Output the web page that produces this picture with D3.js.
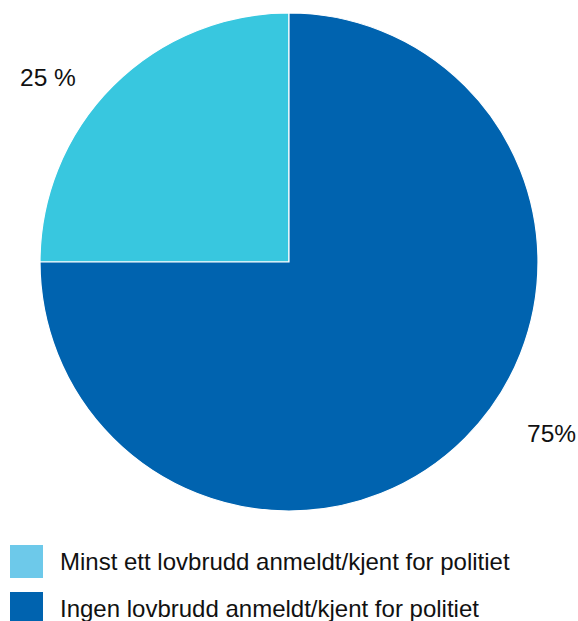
<!DOCTYPE html>
<html><head><meta charset="utf-8">
<script src="https://cdn.jsdelivr.net/npm/d3@7"></script>
<style>body{margin:0;background:#fff}svg{display:block}</style>
</head><body>
<script>
const categories = ["Minst ett lovbrudd anmeldt/kjent for politiet", "Ingen lovbrudd anmeldt/kjent for politiet"];
const values = [25, 75];
const sliceLabels = ["25 %", "75%"];
const sliceColors = ["#38C7DF", "#0063AF"];
const legendColors = ["#6DC9EA", "#0063AF"];

const W = 578, H = 621;
const svg = d3.select("body").append("svg").attr("width", W).attr("height", H);
const cx = 289, cy = 262, r = 249;

// light slice occupies the top-left quadrant, ending at 12 o'clock
const pie = d3.pie().sort(null).startAngle(-Math.PI / 2).endAngle(1.5 * Math.PI);
const arcs = pie(values);
const arc = d3.arc().innerRadius(0).outerRadius(r);
const g = svg.append("g").attr("transform", `translate(${cx},${cy})`);
g.selectAll("path").data(arcs).join("path")
  .attr("d", arc)
  .attr("fill", (d, i) => sliceColors[i])
  .attr("stroke", "#fff").attr("stroke-width", 1.2);

// slice labels
const labelPos = [[20, 86], [527, 442]];
svg.selectAll("text.sl").data(sliceLabels).join("text")
  .attr("class", "sl")
  .attr("x", (d, i) => labelPos[i][0]).attr("y", (d, i) => labelPos[i][1])
  .attr("font-family", "Liberation Sans, Arial, sans-serif")
  .attr("font-size", 24.5).attr("fill", "#111").text(d => d);

// legend
const leg = svg.append("g");
const rows = leg.selectAll("g").data(categories).join("g")
  .attr("transform", (d, i) => `translate(10, ${545 + i * 47})`);
rows.append("rect").attr("width", 33).attr("height", 33).attr("fill", (d, i) => legendColors[i]);
rows.append("text").attr("x", 50).attr("y", 25)
  .attr("font-family", "Liberation Sans, Arial, sans-serif")
  .attr("font-size", 24).attr("fill", "#111").text(d => d);
</script>
</body></html>
